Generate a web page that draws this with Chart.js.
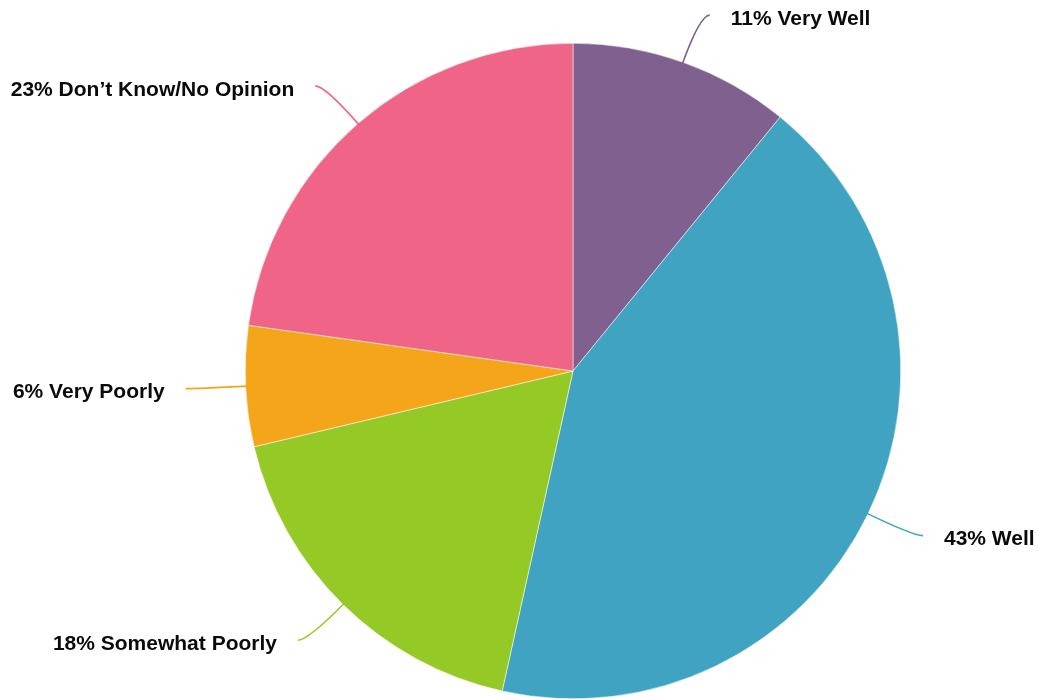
<!DOCTYPE html>
<html>
<head>
<meta charset="utf-8">
<title>Survey pie</title>
<script src="https://cdn.jsdelivr.net/npm/chart.js@4"></script>
<style>
  html, body { margin: 0; padding: 0; background: #fff; }
  #wrap { width: 1038px; height: 700px; position: relative; }
</style>
</head>
<body>
<div id="wrap"><canvas id="pie"></canvas></div>
<script>
// answers, clockwise from 12 o'clock
const categories = ["Very Well", "Well", "Somewhat Poorly", "Very Poorly", "Don\u2019t Know/No Opinion"];
const shares = [11, 43, 18, 6, 23];
const sliceColors = ["#7f608e", "#40a3c1", "#95c926", "#f5a51a", "#ef6487"];

// curved leader lines + "NN% label" text outside each slice
const leaderLabels = {
    id: 'leaderLabels',
    afterDraw(chart) {
        const ctx = chart.ctx;
        const meta = chart.getDatasetMeta(0);
        ctx.save();
        ctx.font = 'bold 21px "Liberation Sans", Arial, sans-serif';
        ctx.textBaseline = 'middle';
        ctx.fillStyle = '#0a0a0a';
        meta.data.forEach((arc, i) => {
            const mid = (arc.startAngle + arc.endAngle) / 2;
            const dx = Math.cos(mid), dy = Math.sin(mid);
            const r = arc.outerRadius;
            const side = dx >= 0 ? 1 : -1;

            const start = { x: arc.x + dx * (r - 4), y: arc.y + dy * (r - 4) };
            const bend = { x: arc.x + dx * (r + 50), y: arc.y + dy * (r + 50) };
            const end = { x: bend.x + side * 10, y: bend.y };

            ctx.strokeStyle = sliceColors[i];
            ctx.lineWidth = 1.6;
            ctx.beginPath();
            ctx.moveTo(start.x, start.y);
            ctx.quadraticCurveTo(bend.x, bend.y, end.x, end.y);
            ctx.stroke();

            ctx.textAlign = side > 0 ? 'left' : 'right';
            ctx.fillText(shares[i] + '% ' + categories[i], end.x + side * 21, end.y + 4);
        });
        ctx.restore();
    }
};

new Chart(document.getElementById('pie'), {
    type: 'pie',
    data: {
        labels: categories,
        datasets: [{
            data: shares,
            backgroundColor: sliceColors,
            borderColor: '#ffffff',
            borderWidth: 0.5
        }]
    },
    options: {
        responsive: true,
        maintainAspectRatio: false,
        animation: false,
        layout: {
            padding: { top: 43, bottom: 1, left: 245, right: 137 }
        },
        plugins: {
            legend: { display: false },
            tooltip: { enabled: false }
        }
    },
    plugins: [leaderLabels]
});
</script>
</body>
</html>
